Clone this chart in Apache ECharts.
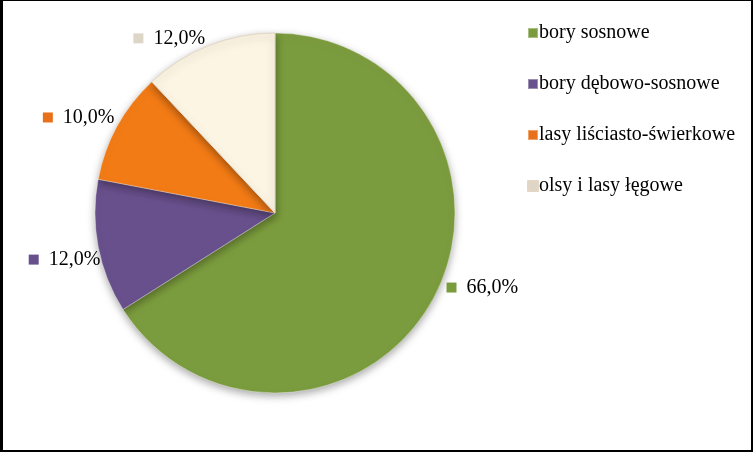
<!DOCTYPE html>
<html><head><meta charset="utf-8">
<script src="https://cdn.jsdelivr.net/npm/echarts@6/dist/echarts.min.js"></script>
<style>
html,body{margin:0;padding:0;background:#fff;}
#c{position:absolute;left:0;top:0;width:753px;height:452px;}
#f{position:absolute;left:0;top:0;width:753px;height:452px;box-sizing:border-box;border-style:solid;border-color:#000;border-width:1px 2px 2px 3px;pointer-events:none;}
</style></head>
<body><div id="c"></div><div id="f"></div>
<script>
const categories = ['bory sosnowe', 'bory dębowo-sosnowe', 'lasy liściasto-świerkowe', 'olsy i lasy łęgowe'];
const values = [66, 12, 10, 12];
const colors = ['#7b9c3e', '#68508c', '#f27b16', '#fdf5e4'];
const markerColors = ['#7b9c3e', '#68508c', '#e8701a', '#ddd5c8'];
const labelNudge = [[0, -17], [17, 11], [11, -4], [5, 2]];

const fmt = v => v.toFixed(1).replace('.', ',') + '%';
const chart = echarts.init(document.getElementById('c'));
chart.setOption({
  animation: false,
  legend: {
    orient: 'vertical', left: 527, top: 23, padding: 0,
    itemWidth: 10, itemHeight: 10, itemGap: 31,
    icon: 'rect',
    textStyle: { fontFamily: 'Liberation Serif', fontSize: 20, color: '#000', padding: [0, 0, 0, -4] },
    data: categories.map((n, i) => ({ name: n, itemStyle: { color: markerColors[i] } }))
  },
  series: [{
    type: 'pie',
    center: [275, 213], radius: 180,
    startAngle: 90, clockwise: true,
    label: {
      show: true, position: 'outside', distanceToLabelLine: 5,
      fontFamily: 'Liberation Serif', fontSize: 20, color: '#000'
    },
    labelLine: { show: false, length: 10, length2: 0 },
    labelLayout: p => ({ dx: labelNudge[p.dataIndex][0], dy: labelNudge[p.dataIndex][1] }),
    itemStyle: { shadowBlur: 8, shadowOffsetY: 3, shadowColor: 'rgba(0,0,0,0.35)', borderColor: 'rgba(255,255,255,0.35)', borderWidth: 1 },
    emphasis: { disabled: true },
    data: categories.map((n, i) => ({
      name: n, value: values[i],
      itemStyle: { color: colors[i], borderColor: i === 3 ? '#e3d6c3' : 'rgba(255,255,255,0.35)' },
      label: {
        formatter: '{m|}  {v|' + fmt(values[i]) + '}',
        rich: {
          m: { width: 10, height: 10, backgroundColor: markerColors[i] },
          v: { fontFamily: 'Liberation Serif', fontSize: 20, color: '#000' }
        }
      }
    }))
  }]
});
</script></body></html>
